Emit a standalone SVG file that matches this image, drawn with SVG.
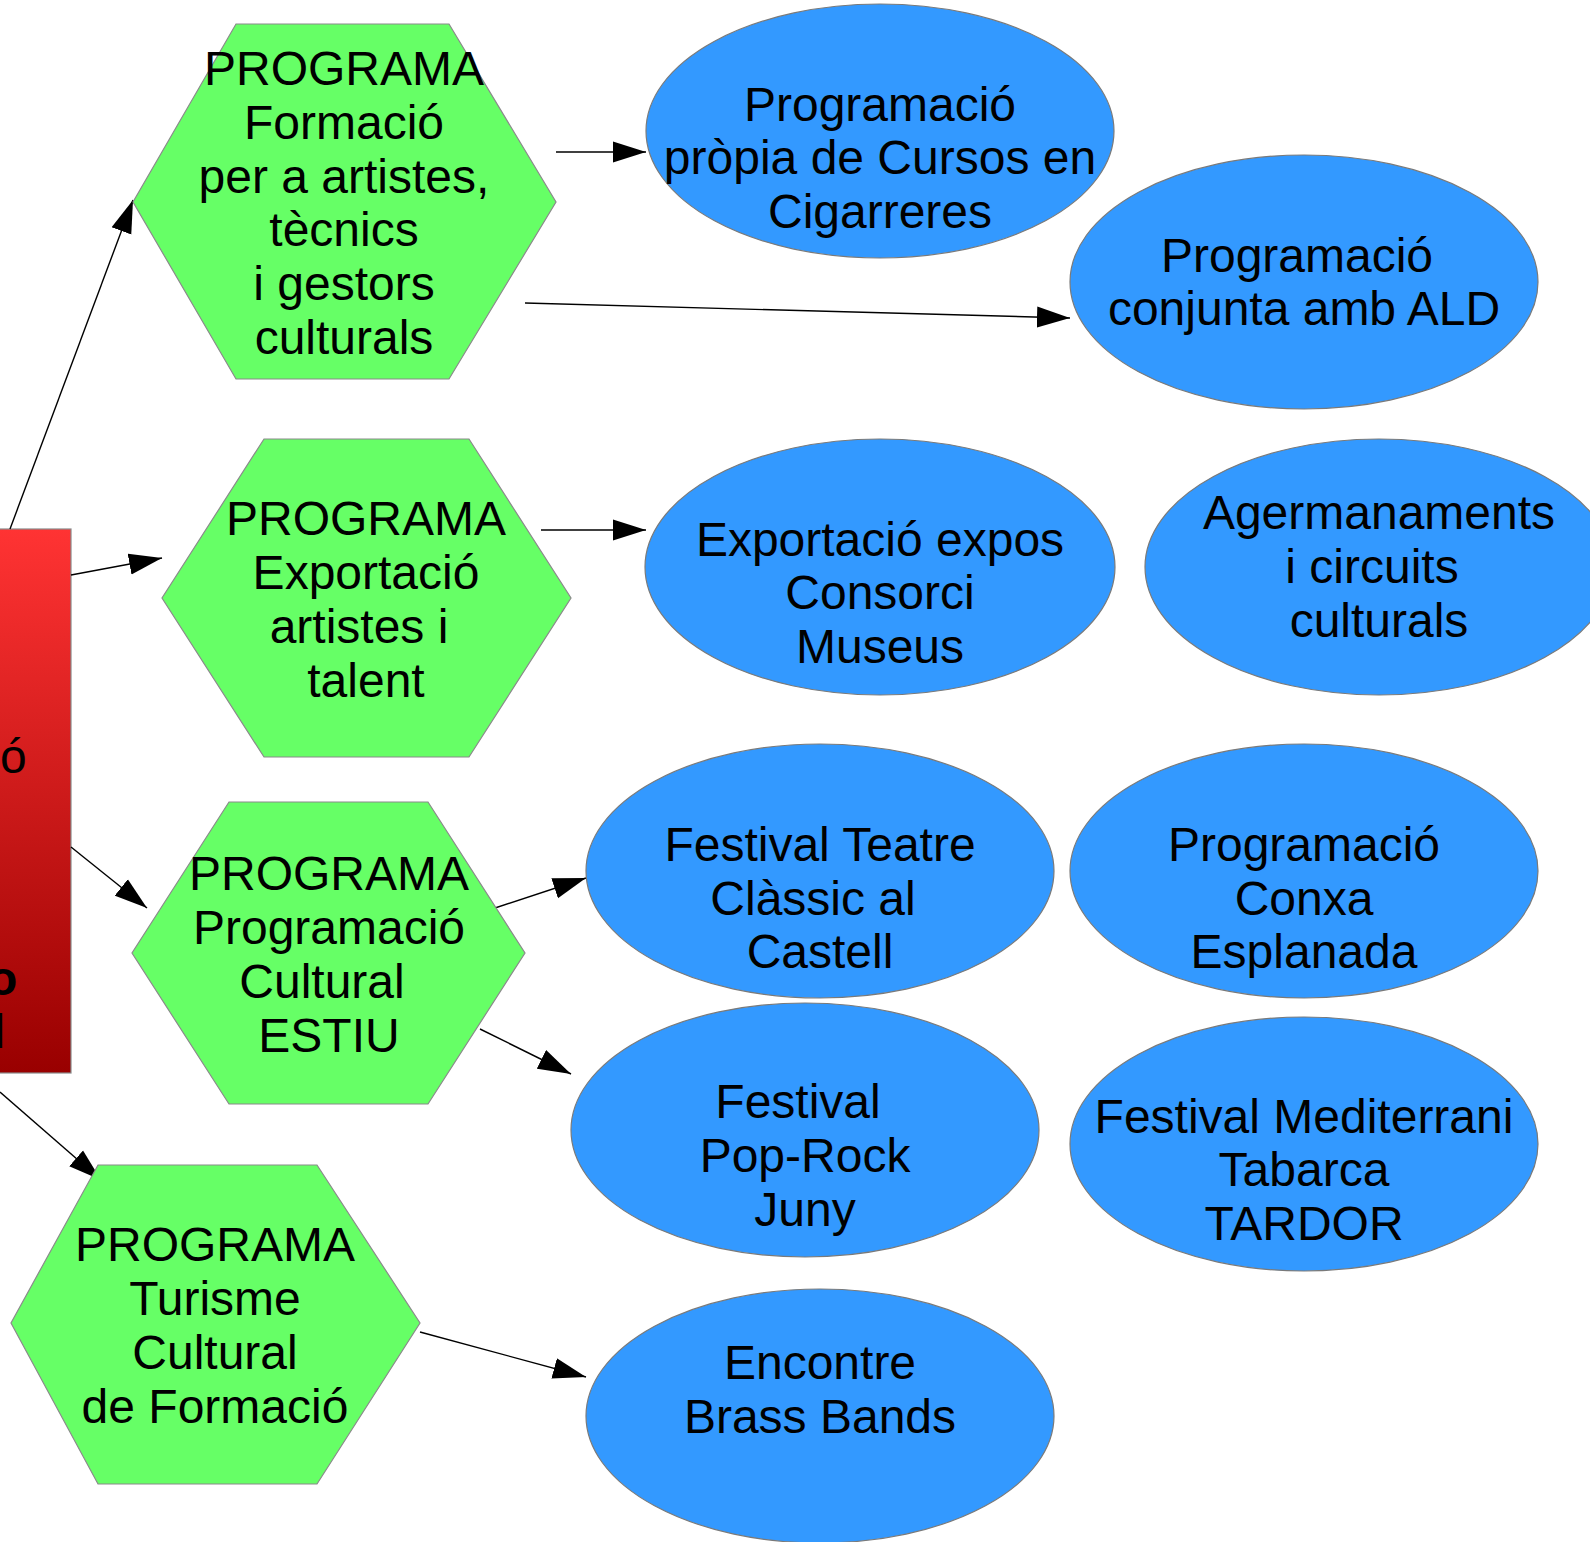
<svg xmlns="http://www.w3.org/2000/svg" width="1590" height="1542" viewBox="0 0 1590 1542">
<style>
.hex{fill:#66ff66;stroke:#8a8a8a;stroke-width:1.2}
.ell{fill:#3399ff;stroke:#7a7a7a;stroke-width:1.2}
text{font-family:"Liberation Sans",Arial,sans-serif;font-size:48px;fill:#000;text-anchor:middle}
.edge{stroke:#000;stroke-width:1.4;fill:none;marker-end:url(#arr)}
</style>
<defs>
<linearGradient id="red" x1="0" y1="0" x2="0" y2="1">
<stop offset="0" stop-color="#ff3333"/>
<stop offset="1" stop-color="#990000"/>
</linearGradient>
<marker id="arr" markerUnits="userSpaceOnUse" markerWidth="33" markerHeight="22" refX="33" refY="11" orient="auto">
<path d="M0,0.5 L33,11 L0,21.5 z" fill="#000"/>
</marker>
</defs>
<rect width="1590" height="1542" fill="#fff"/>
<g id="root">
<rect x="-10" y="529" width="81" height="544" fill="url(#red)" stroke="#8a8a8a" stroke-width="1.2"/>
<text x="0" y="773" style="text-anchor:start">ó</text>
<text x="-12" y="995" style="text-anchor:start;font-weight:bold">o</text>
<text x="-8" y="1048" style="text-anchor:start;font-weight:bold">l</text>
</g>
<g id="connectors">
<line class="edge" x1="10" y1="529" x2="133" y2="200"/>
<line class="edge" x1="71" y1="575" x2="162" y2="558"/>
<line class="edge" x1="71" y1="847" x2="147" y2="908"/>
<line class="edge" x1="0" y1="1092" x2="101" y2="1180"/>
<line class="edge" x1="556" y1="152" x2="646" y2="152"/>
<line class="edge" x1="525" y1="303" x2="1070" y2="318"/>
<line class="edge" x1="541" y1="530" x2="646" y2="530"/>
<line class="edge" x1="495" y1="908" x2="586" y2="878"/>
<line class="edge" x1="480" y1="1029" x2="571" y2="1074"/>
<line class="edge" x1="420" y1="1332" x2="586" y2="1377"/>
</g>
<g id="hex1">
<polygon class="hex" points="236,24 449,24 556,202 449,379 236,379 133,202"/>
<text x="344" y="85">PROGRAMA</text>
<text x="344" y="139">Formació</text>
<text x="344" y="193">per a artistes,</text>
<text x="344" y="246">tècnics</text>
<text x="344" y="300">i gestors</text>
<text x="344" y="354">culturals</text>
</g>
<g id="hex2">
<polygon class="hex" points="264,439 469,439 571,598 469,757 264,757 162,598"/>
<text x="366" y="535">PROGRAMA</text>
<text x="366" y="589">Exportació</text>
<text x="359" y="643">artistes i</text>
<text x="366" y="697">talent</text>
</g>
<g id="hex3">
<polygon class="hex" points="229,802 428,802 525,953 428,1104 229,1104 132,953"/>
<text x="329" y="890">PROGRAMA</text>
<text x="329" y="944">Programació</text>
<text x="322" y="998">Cultural</text>
<text x="329" y="1052">ESTIU</text>
</g>
<g id="hex4">
<polygon class="hex" points="98,1165 317,1165 420,1323 317,1484 98,1484 11,1323"/>
<text x="215" y="1261">PROGRAMA</text>
<text x="215" y="1315">Turisme</text>
<text x="215" y="1369">Cultural</text>
<text x="215" y="1423">de Formació</text>
</g>
<g id="e1">
<ellipse class="ell" cx="880" cy="131" rx="234" ry="127"/>
<text x="880" y="121">Programació</text>
<text x="880" y="174">pròpia de Cursos en</text>
<text x="880" y="228">Cigarreres</text>
</g>
<g id="e2">
<ellipse class="ell" cx="1304" cy="282" rx="234" ry="127"/>
<text x="1297" y="272">Programació</text>
<text x="1304" y="325">conjunta amb ALD</text>
</g>
<g id="e3">
<ellipse class="ell" cx="880" cy="567" rx="235" ry="128"/>
<text x="880" y="556">Exportació expos</text>
<text x="880" y="609">Consorci</text>
<text x="880" y="663">Museus</text>
</g>
<g id="e4">
<ellipse class="ell" cx="1379" cy="567" rx="234" ry="128"/>
<text x="1379" y="529">Agermanaments</text>
<text x="1372" y="583">i circuits</text>
<text x="1379" y="637">culturals</text>
</g>
<g id="e5">
<ellipse class="ell" cx="820" cy="871" rx="234" ry="127"/>
<text x="820" y="861">Festival Teatre</text>
<text x="813" y="915">Clàssic al</text>
<text x="820" y="968">Castell</text>
</g>
<g id="e6">
<ellipse class="ell" cx="1304" cy="871" rx="234" ry="127"/>
<text x="1304" y="861">Programació</text>
<text x="1304" y="915">Conxa</text>
<text x="1304" y="968">Esplanada</text>
</g>
<g id="e7">
<ellipse class="ell" cx="805" cy="1130" rx="234" ry="127"/>
<text x="798" y="1118">Festival</text>
<text x="805" y="1172">Pop-Rock</text>
<text x="805" y="1226">Juny</text>
</g>
<g id="e8">
<ellipse class="ell" cx="1304" cy="1144" rx="234" ry="127"/>
<text x="1304" y="1133">Festival Mediterrani</text>
<text x="1304" y="1186">Tabarca</text>
<text x="1304" y="1240">TARDOR</text>
</g>
<g id="e9">
<ellipse class="ell" cx="820" cy="1416" rx="234" ry="127"/>
<text x="820" y="1379">Encontre</text>
<text x="820" y="1433">Brass Bands</text>
</g>
</svg>
